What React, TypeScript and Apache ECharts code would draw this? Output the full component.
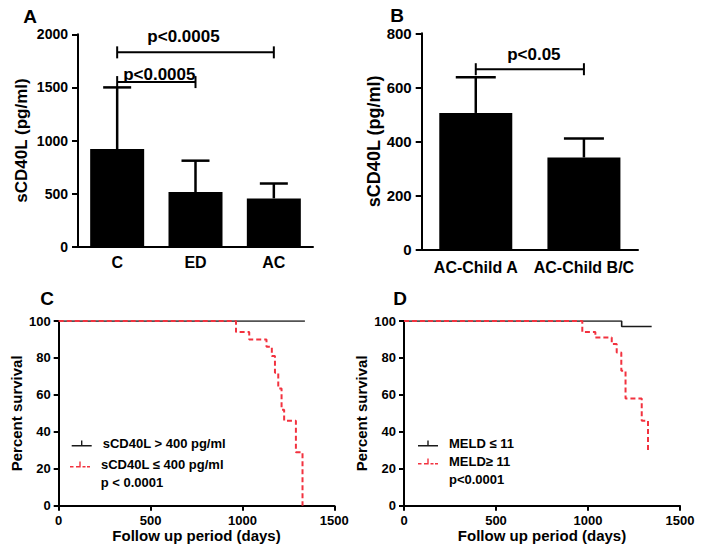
import React, { useEffect, useRef } from "react";
import * as echarts from "echarts";

// ---- Panel A ----
const catsA = ["C", "ED", "AC"];
const meanA = [920, 515, 455];
const errA = [1500, 810, 595];
const yTicksA = { min: 0, max: 2000, interval: 500 };
// [fromIndex, toIndex, y]
const bracketsA = [
  [0, 2, 1830],
  [0, 1, 1550],
];
const bracketLabelsA = ["p<0.0005", "p<0.0005"];

// ---- Panel B ----
const catsB = ["AC-Child A", "AC-Child B/C"];
const meanB = [505, 340];
const errB = [637, 410];
const yTicksB = { min: 0, max: 800, interval: 200 };
const bracketsB = [[0, 1, 667]];
const bracketLabelsB = ["p<0.05"];

// ---- Panel C (Kaplan-Meier, [day, percent]) ----
const kmC_high = [
  [0, 100],
  [1340, 100],
];
const kmC_low = [
  [0, 100],
  [965, 94],
  [1037, 90],
  [1131, 86],
  [1160, 81],
  [1177, 72],
  [1195, 63.5],
  [1213, 52],
  [1227, 46],
  [1291, 29],
  [1327, 0],
];
const legendC = ["sCD40L > 400 pg/ml", "sCD40L \u2264 400 pg/ml"];
const pTextC = "p < 0.0001";

// ---- Panel D ----
const kmD_low = [
  [0, 100],
  [1183, 97],
  [1346, 97],
];
const kmD_high = [
  [0, 100],
  [969, 94],
  [1040, 91],
  [1129, 87.5],
  [1156, 83],
  [1181, 73],
  [1204, 58],
  [1292, 46],
  [1326, 30],
];
const legendD = ["MELD \u2264 11", "MELD\u2265 11"];
const pTextD = "p<0.0001";

const xTicksKM = { min: 0, max: 1500, interval: 500 };
const yTicksKM = { min: 0, max: 100, interval: 20 };

const FONT = "'Liberation Sans', Arial, Helvetica, sans-serif";
const RED = "#f2323f";

const ICON_SOLID =
  "path://M0,4.5L20,4.5L20,6L0,6Z M9.3,0L10.7,0L10.7,5L9.3,5Z";
const ICON_DASH =
  "path://M0,4.5L3.5,4.5L3.5,6L0,6Z M6,4.5L9.3,4.5L9.3,6L6,6Z M9.3,0L10.7,0L10.7,6L9.3,6Z M12.5,4.5L15.5,4.5L15.5,6L12.5,6Z M17,4.5L20,4.5L20,6L17,6Z";

const plainNum = (v: number) => String(v);

function errorSeries(gridIdx: number, means: number[], errs: number[], capW: number) {
  return {
    type: "custom",
    xAxisIndex: gridIdx,
    yAxisIndex: gridIdx,
    z: 5,
    clip: false,
    data: means.map((m, i) => [i, m, errs[i]]),
    encode: { x: 0, y: [1, 2] },
    renderItem: (params: any, api: any) => {
      const i = api.value(0);
      const top = api.coord([i, api.value(1)]);
      const e = api.coord([i, api.value(2)]);
      const st = { stroke: "#000", lineWidth: 2.5 };
      return {
        type: "group",
        children: [
          { type: "line", shape: { x1: top[0], y1: top[1], x2: e[0], y2: e[1] }, style: st },
          { type: "line", shape: { x1: e[0] - capW / 2, y1: e[1], x2: e[0] + capW / 2, y2: e[1] }, style: st },
        ],
      };
    },
  };
}

function bracketSeries(
  gridIdx: number,
  brackets: number[][],
  labels: string[],
  textDy: number[],
  textDx: number[]
) {
  return {
    type: "custom",
    xAxisIndex: gridIdx,
    yAxisIndex: gridIdx,
    z: 6,
    clip: false,
    data: brackets,
    encode: { x: [0, 1], y: 2 },
    renderItem: (params: any, api: any) => {
      const idx = params.dataIndex;
      const a = api.coord([api.value(0), api.value(2)]);
      const b = api.coord([api.value(1), api.value(2)]);
      const st = { stroke: "#000", lineWidth: 2 };
      return {
        type: "group",
        children: [
          { type: "line", shape: { x1: a[0], y1: a[1], x2: b[0], y2: b[1] }, style: st },
          { type: "line", shape: { x1: a[0], y1: a[1] - 6, x2: a[0], y2: a[1] + 6 }, style: st },
          { type: "line", shape: { x1: b[0], y1: b[1] - 6, x2: b[0], y2: b[1] + 6 }, style: st },
          {
            type: "text",
            style: {
              text: labels[idx],
              x: (a[0] + b[0]) / 2 + textDx[idx],
              y: a[1] - textDy[idx],
              align: "center",
              verticalAlign: "middle",
              fontSize: 17,
              fontWeight: "bold",
              fontFamily: FONT,
              fill: "#000",
            },
          },
        ],
      };
    },
  };
}

const axisLine = { show: true, lineStyle: { color: "#000", width: 2 } };

function barXAxis(gridIdx: number, cats: string[], margin: number) {
  return {
    type: "category",
    gridIndex: gridIdx,
    data: cats,
    axisLine,
    axisTick: { show: false },
    axisLabel: {
      color: "#000",
      fontSize: 16,
      fontWeight: "bold",
      fontFamily: FONT,
      margin,
      interval: 0,
      hideOverlap: false,
    },
    splitLine: { show: false },
  };
}

function barYAxis(gridIdx: number, t: any, name: string, fs: number, nameFs: number, nameGap: number) {
  return {
    type: "value",
    gridIndex: gridIdx,
    min: t.min,
    max: t.max,
    interval: t.interval,
    name,
    nameLocation: "middle",
    nameGap,
    nameTextStyle: { color: "#000", fontSize: nameFs, fontWeight: "bold", fontFamily: FONT },
    axisLine,
    axisTick: { show: true, length: 6, lineStyle: { color: "#000", width: 2 } },
    axisLabel: {
      color: "#000",
      fontSize: fs,
      fontWeight: "bold",
      fontFamily: FONT,
      margin: 10,
      formatter: plainNum,
    },
    splitLine: { show: false },
  };
}

function kmXAxis(gridIdx: number) {
  return {
    type: "value",
    gridIndex: gridIdx,
    min: xTicksKM.min,
    max: xTicksKM.max,
    interval: xTicksKM.interval,
    name: "Follow up period (days)",
    nameLocation: "middle",
    nameGap: 21,
    nameTextStyle: { color: "#000", fontSize: 15, fontWeight: "bold", fontFamily: FONT, verticalAlign: "top" },
    axisLine,
    axisTick: { show: true, length: 5, lineStyle: { color: "#000", width: 2 } },
    axisLabel: {
      color: "#000",
      fontSize: 13,
      fontWeight: "bold",
      fontFamily: FONT,
      margin: 8,
      formatter: plainNum,
    },
    splitLine: { show: false },
  };
}

function kmYAxis(gridIdx: number, nameGap: number) {
  return {
    type: "value",
    gridIndex: gridIdx,
    min: yTicksKM.min,
    max: yTicksKM.max,
    interval: yTicksKM.interval,
    name: "Percent survival",
    nameLocation: "middle",
    nameGap,
    nameTextStyle: { color: "#000", fontSize: 15, fontWeight: "bold", fontFamily: FONT },
    axisLine,
    axisTick: { show: true, length: 5, lineStyle: { color: "#000", width: 2 } },
    axisLabel: {
      color: "#000",
      fontSize: 13,
      fontWeight: "bold",
      fontFamily: FONT,
      margin: 8,
      formatter: plainNum,
    },
    splitLine: { show: false },
  };
}

function kmSeries(gridIdx: number, name: string, data: number[][], dashed: boolean) {
  return {
    type: "line",
    name,
    xAxisIndex: gridIdx,
    yAxisIndex: gridIdx,
    data,
    step: "end",
    showSymbol: false,
    symbol: "none",
    color: dashed ? RED : "#1a1a1a",
    z: dashed ? 4 : 3,
    lineStyle: dashed
      ? { color: RED, width: 2, type: [5, 3] }
      : { color: "#1a1a1a", width: 1.6 },
  };
}

function legendItem(name: string, icon: string, left: number, top: number) {
  return {
    show: true,
    orient: "vertical",
    left,
    top,
    padding: 0,
    itemWidth: 20,
    itemHeight: 6,
    selectedMode: false,
    data: [{ name, icon }],
    itemStyle: { borderWidth: 0 },
    lineStyle: { width: 0 },
    textStyle: {
      color: "#000",
      fontSize: 13,
      fontWeight: "bold",
      fontFamily: FONT,
      padding: [0, 0, 0, 6],
    },
  };
}

function panelLetter(text: string, x: number, y: number) {
  return {
    type: "text",
    x,
    y,
    style: {
      text,
      fontSize: 19,
      fontWeight: "bold",
      fontFamily: FONT,
      fill: "#000",
      align: "center",
      verticalAlign: "middle",
    },
  };
}

function plainText(text: string, x: number, y: number) {
  return {
    type: "text",
    x,
    y,
    style: {
      text,
      fontSize: 13,
      fontWeight: "bold",
      fontFamily: FONT,
      fill: "#000",
      align: "left",
      verticalAlign: "middle",
    },
  };
}

export default function App() {
  const ref = useRef<HTMLDivElement>(null);
  useEffect(() => {
    if (!ref.current) return;
    const chart = echarts.init(ref.current, undefined, { renderer: "svg" });
    const option: any = {
      animation: false,
      backgroundColor: "#fff",
      textStyle: { fontFamily: FONT },
      grid: [
        { left: 78, top: 34.3, width: 235, height: 212.4 },
        { left: 421.7, top: 33.3, width: 216.3, height: 216 },
        { left: 58.7, top: 321, width: 275.6, height: 184.7 },
        { left: 404, top: 321, width: 276, height: 184.7 },
      ],
      xAxis: [barXAxis(0, catsA, 8), barXAxis(1, catsB, 10), kmXAxis(2), kmXAxis(3)],
      yAxis: [
        barYAxis(0, yTicksA, "sCD40L (pg/ml)", 14, 17, 48),
        barYAxis(1, yTicksB, "sCD40L (pg/ml)", 15, 18, 38),
        kmYAxis(2, 35),
        kmYAxis(3, 35),
      ],
      legend: [
        legendItem(legendC[0], ICON_SOLID, 71.7, 437),
        legendItem(legendC[1], ICON_DASH, 70, 458),
        legendItem(legendD[0], ICON_SOLID, 418, 437),
        legendItem(legendD[1], ICON_DASH, 418, 455),
      ],
      series: [
        {
          type: "bar",
          xAxisIndex: 0,
          yAxisIndex: 0,
          data: meanA,
          barWidth: 54,
          itemStyle: { color: "#000" },
          silent: true,
        },
        errorSeries(0, meanA, errA, 28),
        bracketSeries(0, bracketsA, bracketLabelsA, [15.5, 8], [-12, 3]),
        {
          type: "bar",
          xAxisIndex: 1,
          yAxisIndex: 1,
          data: meanB,
          barWidth: 73,
          itemStyle: { color: "#000" },
          silent: true,
        },
        errorSeries(1, meanB, errB, 40),
        bracketSeries(1, bracketsB, bracketLabelsB, [15, 0], [4, 0]),
        kmSeries(2, legendC[0], kmC_high, false),
        kmSeries(2, legendC[1], kmC_low, true),
        kmSeries(3, legendD[0], kmD_low, false),
        kmSeries(3, legendD[1], kmD_high, true),
      ],
      graphic: [
        panelLetter("A", 30, 16),
        panelLetter("B", 397, 15),
        panelLetter("C", 47, 298),
        panelLetter("D", 400, 298),
        plainText(pTextC, 100.7, 482),
        plainText(pTextD, 449, 479.5),
      ],
    };
    chart.setOption(option);
    return () => chart.dispose();
  }, []);
  return (
    <div
      ref={ref}
      style={{ position: "absolute", left: 0, top: 0, width: 704, height: 558, background: "#fff" }}
    />
  );
}
